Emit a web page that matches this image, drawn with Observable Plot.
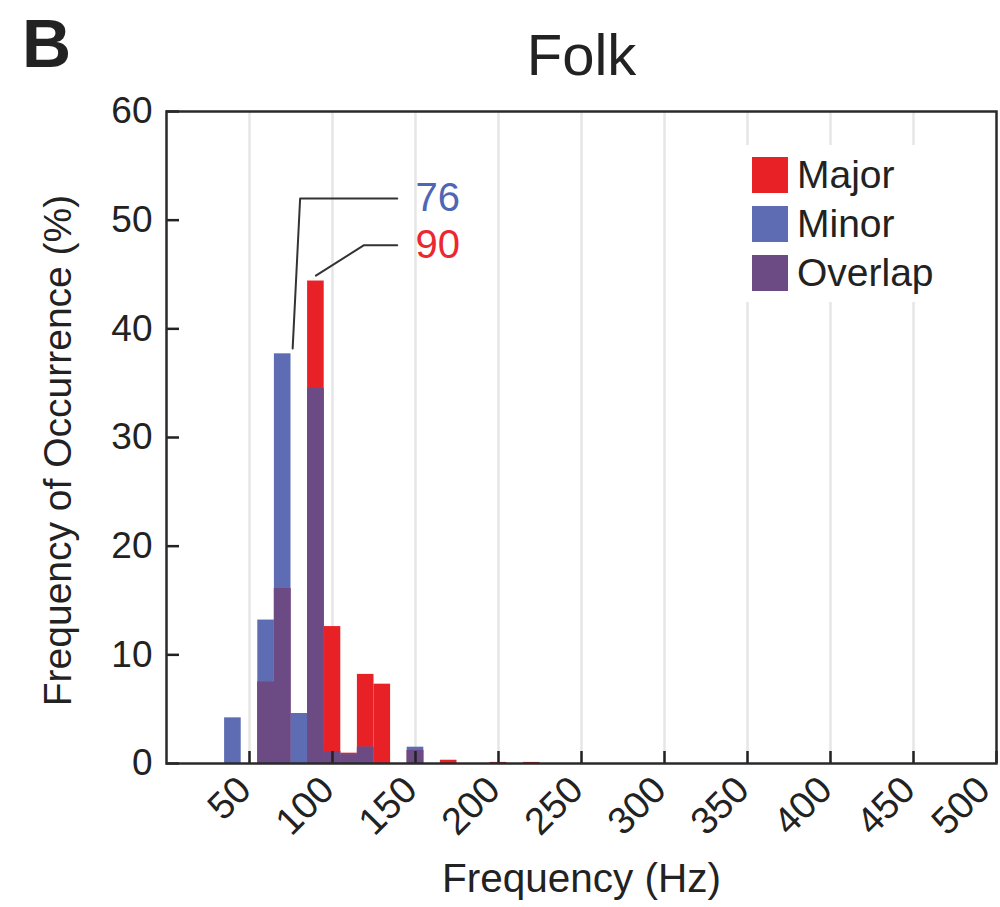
<!DOCTYPE html>
<html>
<head>
<meta charset="utf-8">
<script src="https://cdn.jsdelivr.net/npm/d3@7"></script>
<script src="https://cdn.jsdelivr.net/npm/@observablehq/plot@0.6"></script>
<style>
  html, body { margin: 0; padding: 0; background: #fff; }
  #wrap { position: relative; width: 1000px; height: 907px; font-family: "Liberation Sans", Arial, Helvetica, sans-serif; }
  #legend { position: absolute; left: 742px; top: 145px; width: 225px; height: 157px; background: #fff; }
  .item { position: absolute; left: 10px; height: 36px; display: flex; align-items: center; }
  .sw { width: 36px; height: 36px; margin-right: 9px; }
  .lab { font-size: 39px; color: #222; line-height: 36px; }
</style>
</head>
<body>
<div id="wrap"></div>
<script>
// Histogram bins (centre, Hz) and share of occurrences (%) for each mode
const binHz    = [40, 60, 70, 80, 90, 100, 110, 120, 130, 150, 170, 200, 220];
const majorPct = [0, 7.5, 16.1, 0, 44.4, 12.6, 0.95, 8.2, 7.3, 1.2, 0.3, 0.1, 0.1];
const minorPct = [4.2, 13.2, 37.7, 4.6, 34.5, 1.1, 0.8, 1.5, 0, 1.5, 0, 0, 0];
const binWidth = 10;

const xTicks = [50, 100, 150, 200, 250, 300, 350, 400, 450, 500];
const yTicks = [0, 10, 20, 30, 40, 50, 60];

// Peak callouts
const peakHz = [76, 90];
const peakText = ["76", "90"];
const peakSeries = [minorPct, majorPct];
const elbowHz = [80.5, 119];
const labelPct = [52, 47.7];
const leaderEndHz = 139;
const labelHz = 150;

const colors = {Major: "#e82127", Minor: "#5d6cb3", Overlap: "#6c4a83"};
const peakColors = ["#4e66b6", "#ec2730"];

const bins = binHz.map((c, i) => ({
  x1: c - binWidth / 2,
  x2: c + binWidth / 2,
  major: majorPct[i],
  minor: minorPct[i],
  overlap: Math.min(majorPct[i], minorPct[i])
}));

const leaders = peakHz.flatMap((hz, i) => {
  const top = d3.max(peakSeries[i]) + 0.5;
  return [
    {k: i, x: hz, y: top},
    {k: i, x: elbowHz[i], y: labelPct[i]},
    {k: i, x: leaderEndHz, y: labelPct[i]}
  ];
});
const peakLabels = peakText.map((t, i) => ({t, x: labelHz, y: labelPct[i], c: peakColors[i]}));

const font = "Liberation Sans, Arial, Helvetica, sans-serif";
const xTickStyle = {tickSize: 0, tickPadding: 14, tickRotate: -45, fontSize: 38, dy: 6, label: null};

const chart = Plot.plot({
  width: 1000,
  height: 907,
  marginLeft: 166,
  marginRight: 4,
  marginTop: 111,
  marginBottom: 144,
  style: {fontFamily: font, color: "#222", background: "#fff"},
  x: {domain: [0, 500], axis: null},
  y: {domain: [0, 60], axis: null},
  marks: [
    Plot.ruleX(xTicks.slice(0, -1), {x: d => d, stroke: "#e6e6e6", strokeWidth: 2.5}),
    Plot.rectY(bins, {x1: "x1", x2: "x2", y1: 0, y2: "major", fill: colors.Major}),
    Plot.rectY(bins, {x1: "x1", x2: "x2", y1: 0, y2: "minor", fill: colors.Minor}),
    Plot.rectY(bins, {x1: "x1", x2: "x2", y1: 0, y2: "overlap", fill: colors.Overlap}),
    // inward tick marks
    Plot.ruleX(xTicks, {x: d => d, y1: 0, y2: 0, insetTop: -12, stroke: "#222", strokeWidth: 2.5}),
    Plot.ruleY(yTicks, {y: d => d, x1: 0, x2: 0, insetRight: -13, stroke: "#222", strokeWidth: 2.5}),
    Plot.frame({stroke: "#2a2a2a", strokeWidth: 2.5}),
    Plot.axisY({ticks: yTicks, tickSize: 0, tickPadding: 14, fontSize: 37, label: null}),
    // rotated x tick labels; the last one is nudged in so it stays on the page
    Plot.axisX({...xTickStyle, ticks: xTicks.slice(0, -1), dx: -5}),
    Plot.axisX({...xTickStyle, ticks: xTicks.slice(-1), dx: -13}),
    // peak callouts
    Plot.line(leaders, {x: "x", y: "y", z: "k", stroke: "#333", strokeWidth: 2}),
    Plot.text(peakLabels, {x: "x", y: "y", text: "t", fill: "c", fontSize: 40, textAnchor: "start", lineAnchor: "middle"}),
    // titles and axis labels
    Plot.text(["Folk"], {frameAnchor: "top", dy: -55, fontSize: 58, lineAnchor: "middle"}),
    Plot.text(["B"], {frameAnchor: "top-left", dx: -120, dy: -66, fontSize: 68, fontWeight: "bold", textAnchor: "middle", lineAnchor: "middle"}),
    Plot.text(["Frequency (Hz)"], {frameAnchor: "bottom", dy: 116, fontSize: 40.5, lineAnchor: "middle"}),
    Plot.text(["Frequency of Occurrence (%)"], {frameAnchor: "left", dx: -108, dy: 13, rotate: -90, fontSize: 39, textAnchor: "middle", lineAnchor: "middle"})
  ]
});

const wrap = document.getElementById("wrap");
wrap.appendChild(chart);

// Legend
const legend = document.createElement("div");
legend.id = "legend";
Object.entries(colors).forEach(([name, col], i) => {
  const item = document.createElement("div");
  item.className = "item";
  item.style.top = (12 + i * 49) + "px";
  item.innerHTML = `<div class="sw" style="background:${col}"></div><span class="lab">${name}</span>`;
  legend.appendChild(item);
});
wrap.appendChild(legend);
</script>
</body>
</html>
